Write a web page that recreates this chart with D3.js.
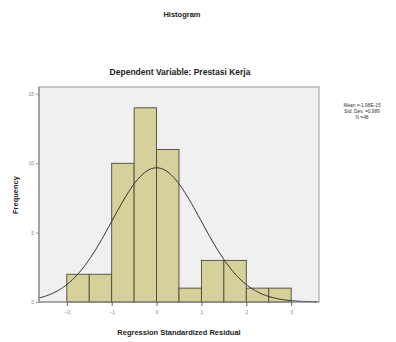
<!DOCTYPE html>
<html>
<head>
<meta charset="utf-8">
<script src="https://cdn.jsdelivr.net/npm/d3@7"></script>
<style>
  body { margin: 0; background: #fff; }
  text { font-family: "Liberation Sans", Arial, sans-serif; }
</style>
</head>
<body>
<div id="chart"></div>
<script>
// bins of width 0.5 from -2 to 3
const binEdges = [-2, -1.5, -1, -0.5, 0, 0.5, 1, 1.5, 2, 2.5, 3];
const counts = [2, 2, 10, 14, 11, 1, 3, 3, 1, 1];
const xTicks = [-2, -1, 0, 1, 2, 3];
const yTicks = [0, 5, 10, 15];
const stats = { mean: 0, sd: 0.989, n: 48 };
const legendLines = ["Mean =-1.98E-15", "Std. Dev. =0.989", "N =48"];

const width = 396, height = 342;
const plot = { left: 39, right: 319, top: 87, bottom: 302 };

const svg = d3.select("#chart").append("svg")
    .attr("width", width)
    .attr("height", height);

const x = d3.scaleLinear()
    .domain([-2.62, 3.62])
    .range([plot.left, plot.right]);

const y = d3.scaleLinear()
    .domain([0, 15.5])
    .range([plot.bottom, plot.top]);

// titles
svg.append("text")
    .attr("x", 182).attr("y", 17)
    .attr("text-anchor", "middle")
    .attr("font-size", 7.5).attr("font-weight", "bold")
    .attr("fill", "#222")
    .text("Histogram");

svg.append("text")
    .attr("x", 180).attr("y", 75)
    .attr("text-anchor", "middle")
    .attr("font-size", 8.5).attr("font-weight", "bold")
    .attr("fill", "#222")
    .text("Dependent Variable: Prestasi Kerja");

// plot background + frame
svg.append("rect")
    .attr("x", plot.left).attr("y", plot.top)
    .attr("width", plot.right - plot.left)
    .attr("height", plot.bottom - plot.top)
    .attr("fill", "#f0f0f0")
    .attr("stroke", "#aaa")
    .attr("stroke-width", 1.2);

// bars
const bars = counts.map((c, i) => ({ x0: binEdges[i], x1: binEdges[i + 1], c }));
svg.append("g")
    .selectAll("rect")
    .data(bars)
    .join("rect")
    .attr("x", d => x(d.x0))
    .attr("y", d => y(d.c))
    .attr("width", d => x(d.x1) - x(d.x0))
    .attr("height", d => y(0) - y(d.c))
    .attr("fill", "#d6d09a")
    .attr("stroke", "#4a4a3a")
    .attr("stroke-width", 0.9);

// normal curve
const binW = binEdges[1] - binEdges[0];
const pdf = v => Math.exp(-0.5 * ((v - stats.mean) / stats.sd) ** 2) / (stats.sd * Math.sqrt(2 * Math.PI));
const curvePts = d3.range(x.domain()[0], x.domain()[1] + 0.001, 0.05);
const line = d3.line()
    .x(v => x(v))
    .y(v => y(stats.n * binW * pdf(v)))
    .curve(d3.curveBasis);
svg.append("path")
    .attr("d", line(curvePts))
    .attr("fill", "none")
    .attr("stroke", "#333")
    .attr("stroke-width", 1);

// axes lines
svg.append("line")
    .attr("x1", plot.left).attr("x2", plot.left)
    .attr("y1", plot.top).attr("y2", plot.bottom)
    .attr("stroke", "#888").attr("stroke-width", 1.2);
svg.append("line")
    .attr("x1", plot.left).attr("x2", plot.right)
    .attr("y1", plot.bottom).attr("y2", plot.bottom)
    .attr("stroke", "#888").attr("stroke-width", 1.2);

// y axis
const yAxis = svg.append("g")
    .attr("transform", `translate(${plot.left},0)`)
    .call(d3.axisLeft(y).tickValues(yTicks).tickSize(3).tickPadding(2));
yAxis.select(".domain").remove();
yAxis.selectAll("line").attr("stroke", "#999");
yAxis.selectAll("text").attr("font-size", 5).attr("fill", "#888")
    .attr("font-family", "Liberation Sans, Arial, sans-serif");

// x axis
const xAxis = svg.append("g")
    .attr("transform", `translate(0,${plot.bottom})`)
    .call(d3.axisBottom(x).tickValues(xTicks).tickFormat(d3.format("d")).tickSize(4).tickPadding(4));
xAxis.select(".domain").remove();
xAxis.selectAll("line").attr("stroke", "#666");
xAxis.selectAll("text").attr("font-size", 5).attr("fill", "#888")
    .attr("font-family", "Liberation Sans, Arial, sans-serif");

// axis titles
svg.append("text")
    .attr("transform", "translate(18,195) rotate(-90)")
    .attr("text-anchor", "middle")
    .attr("font-size", 7.5).attr("font-weight", "bold")
    .attr("fill", "#222")
    .text("Frequency");

svg.append("text")
    .attr("x", 179).attr("y", 335)
    .attr("text-anchor", "middle")
    .attr("font-size", 7.5).attr("font-weight", "bold")
    .attr("fill", "#222")
    .text("Regression Standardized Residual");

// stats legend
svg.append("g")
    .selectAll("text")
    .data(legendLines)
    .join("text")
    .attr("x", 362)
    .attr("y", (d, i) => 107 + i * 6)
    .attr("text-anchor", "middle")
    .attr("font-size", 4.8)
    .attr("fill", "#333")
    .text(d => d);
</script>
</body>
</html>
